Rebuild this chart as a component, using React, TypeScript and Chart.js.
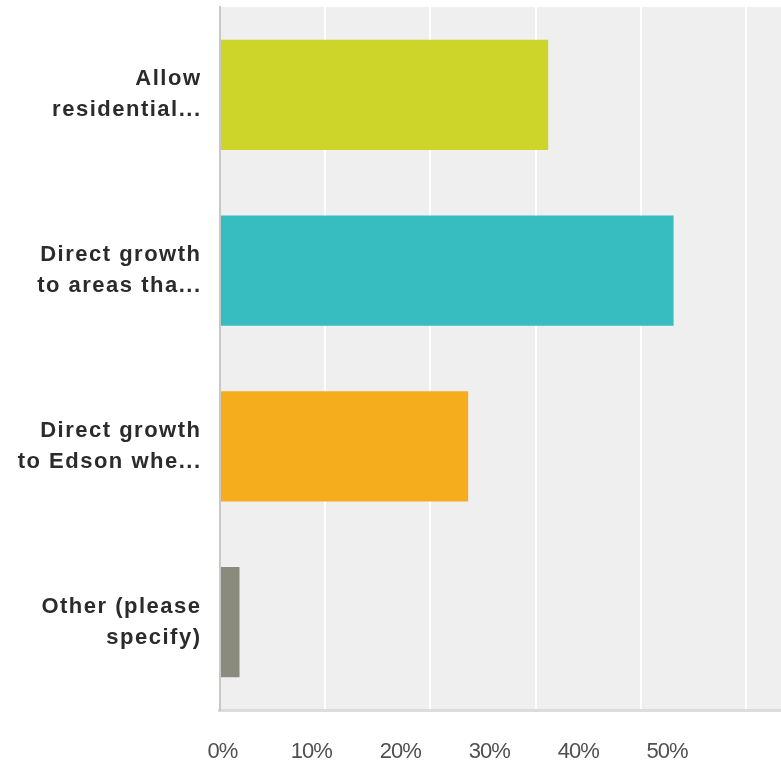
import React, { useEffect, useRef } from "react";
import { Chart, registerables } from "chart.js";

Chart.register(...registerables);

const categories: string[][] = [
  ["Allow", "residential..."],
  ["Direct growth", "to areas tha..."],
  ["Direct growth", "to Edson whe..."],
  ["Other (please", "specify)"],
];
const values: number[] = [31.2, 43.1, 23.6, 1.9];
const barColors: string[] = ["#cdd42a", "#37bdc0", "#f5ad1e", "#8b8b7d"];
const gridValues: number[] = [0, 10, 20, 30, 40, 50];
const xTickLabels: string[] = ["0%", "10%", "20%", "30%", "40%", "50%"];

const bgPlugin = {
  id: "plotBg",
  beforeDraw(chart: any) {
    const { ctx, chartArea } = chart;
    ctx.save();
    ctx.fillStyle = "#efefef";
    ctx.fillRect(chartArea.left, chartArea.top, chartArea.right - chartArea.left, chartArea.bottom - chartArea.top);
    ctx.restore();
    (ctx as any).letterSpacing = "-1px";
  },
  afterDatasetsDraw(chart: any) {
    (chart.ctx as any).letterSpacing = "1.5px";
  },
  afterDraw(chart: any) {
    (chart.ctx as any).letterSpacing = "0px";
  },
};

export default function App() {
  const ref = useRef<HTMLCanvasElement | null>(null);
  useEffect(() => {
    document.body.style.margin = "0";
    if (!ref.current) return;
    const chart = new Chart(ref.current, {
      type: "bar",
      data: {
        labels: categories,
        datasets: [
          {
            data: values,
            backgroundColor: barColors,
            borderWidth: 0,
            barPercentage: 0.626,
            categoryPercentage: 1,
          },
        ],
      },
      plugins: [bgPlugin],
      options: {
        indexAxis: "y",
        animation: false,
        responsive: true,
        maintainAspectRatio: false,
        layout: { padding: { top: 7, right: 0, left: 0, bottom: 0 } },
        plugins: { legend: { display: false }, tooltip: { enabled: false } },
        scales: {
          x: {
            type: "linear",
            position: "bottom",
            weight: 0,
            min: 0,
            max: 53.3,
            afterBuildTicks: (scale: any) => {
              scale.ticks = gridValues.map((v) => ({ value: v }));
            },
            afterFit: (scale: any) => {
              scale.height = 0;
              scale.paddingLeft = 0;
              scale.paddingRight = 0;
            },
            grid: { color: "#ffffff", lineWidth: 2, drawTicks: false },
            border: { display: true, color: "#dcdcdc", width: 3 },
            ticks: { display: false },
          },
          x2: {
            type: "linear",
            position: "bottom",
            weight: 1,
            min: -0.32,
            max: 62.8,
            afterBuildTicks: (scale: any) => {
              scale.ticks = gridValues.map((v) => ({ value: v }));
            },
            afterFit: (scale: any) => {
              scale.height = 63;
              scale.paddingLeft = 0;
              scale.paddingRight = 0;
            },
            grid: { display: false, drawTicks: false },
            border: { display: false },
            ticks: {
              padding: 29,
              maxRotation: 0,
              autoSkip: false,
              color: "#4f4f4f",
              font: { family: "'Liberation Sans', Arial, sans-serif", size: 22 },
              callback: (_v: any, i: number) => xTickLabels[i],
            },
          },
          y: {
            type: "category",
            position: "left",
            afterFit: (scale: any) => {
              scale.width = 219.5;
              scale.paddingTop = 0;
              scale.paddingBottom = 0;
            },
            grid: { display: false, drawTicks: false },
            border: { display: true, color: "#c8c8c8", width: 2, z: 1 },
            ticks: {
              z: 1,
              padding: 18,
              color: "#2b2b2b",
              autoSkip: false,
              font: {
                family: "'Liberation Sans', Arial, sans-serif",
                size: 22,
                weight: "bold",
                lineHeight: 31 / 22,
              },
            },
          },
        },
      } as any,
    });
    return () => chart.destroy();
  }, []);
  return (
    <div style={{ position: "relative", width: "781px", height: "773px" }}>
      <canvas ref={ref} />
    </div>
  );
}
